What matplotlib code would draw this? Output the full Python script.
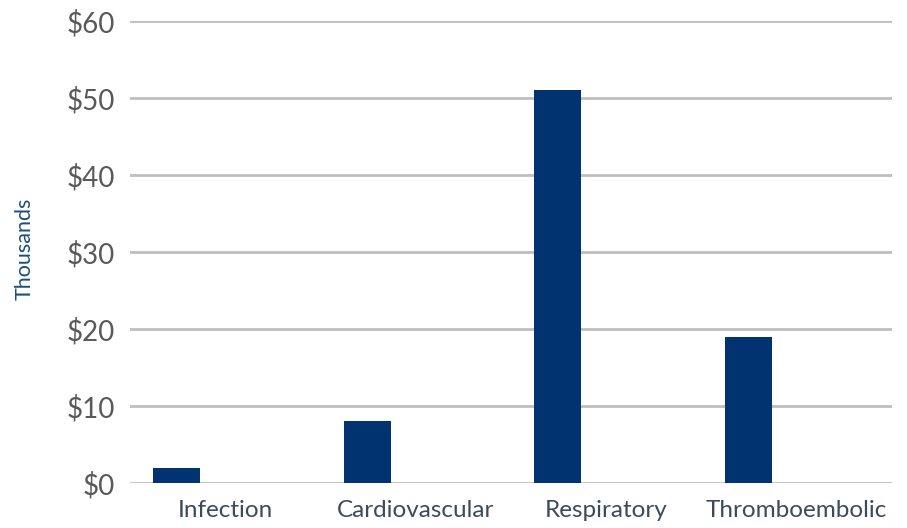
import matplotlib
matplotlib.use("Agg")
import matplotlib.pyplot as plt
import numpy as np

categories = ["Infection", "Cardiovascular", "Respiratory", "Thromboembolic"]
values = [2, 8, 51, 19]
yticks = [0, 10, 20, 30, 40, 50, 60]
ytick_labels = ["$0", "$10", "$20", "$30", "$40", "$50", "$60"]

plt.rcParams['font.family'] = ['Lato', 'DejaVu Sans']

fig = plt.figure(figsize=(9.07, 5.28), dpi=100)
ax = fig.add_axes([130/907, 1-483/528, (892-130)/907, (483-21)/528])

x = np.arange(len(categories))
ax.bar(x - 0.255, values, width=0.247, color="#00336F", zorder=3)

ax.set_xlim(-0.5, len(categories) - 0.5)
ax.set_ylim(0, 60)
ax.set_yticks(yticks)
ax.set_yticklabels(ytick_labels, color="#595959", fontsize=20)
ax.set_xticks(x)
ax.set_xticklabels(categories, color="#3B4A5E", fontsize=17.5)
ax.tick_params(axis='both', length=0)
ax.tick_params(axis='y', pad=11)
ax.tick_params(axis='x', pad=12)
ax.yaxis.grid(True, color="#BFBFBF", linewidth=2, zorder=0)
for s in ax.spines.values():
    s.set_visible(False)

fig.text(25/907, 1-249/528, "Thousands", rotation=90, color="#1F4E79",
         fontsize=15.5, ha="center", va="center")

fig.savefig("out.png", dpi=100)
